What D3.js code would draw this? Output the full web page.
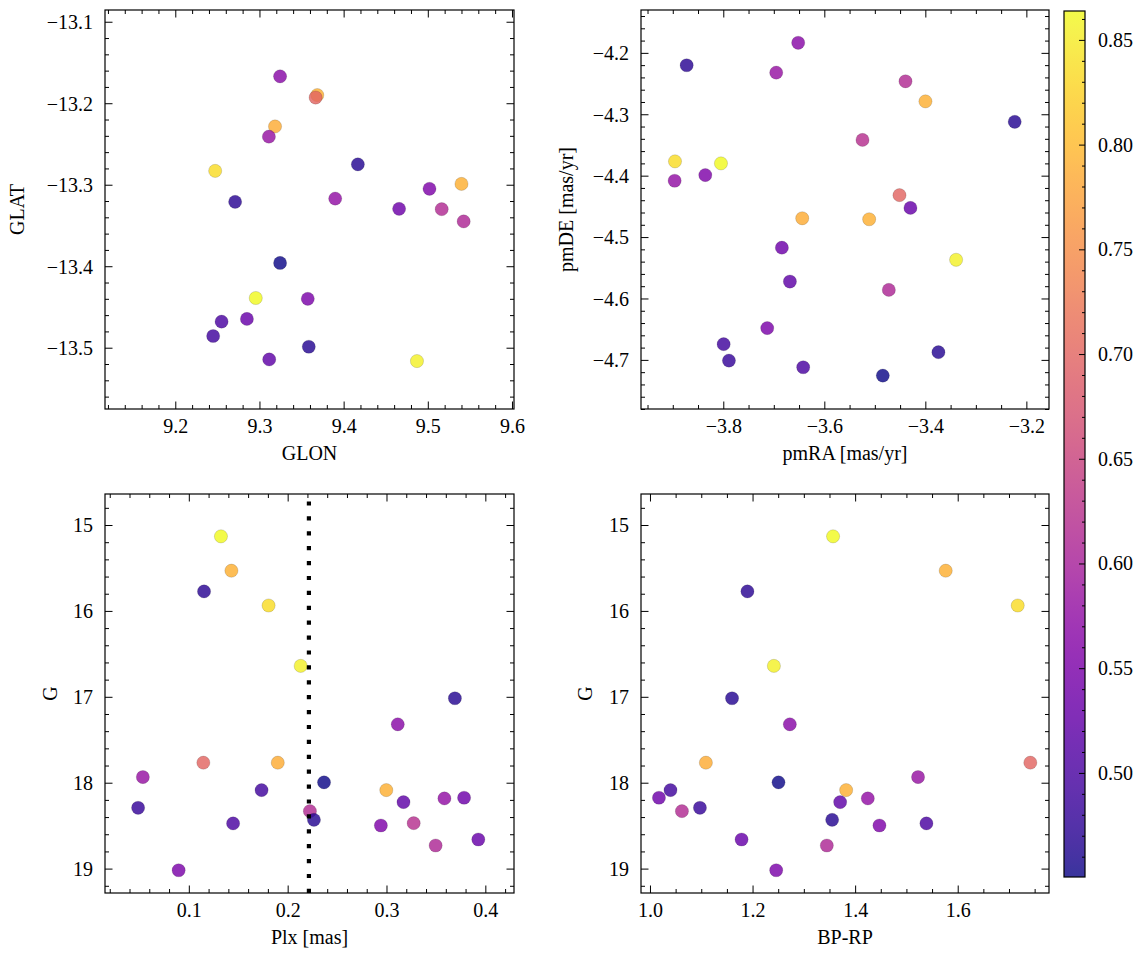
<!DOCTYPE html>
<html><head><meta charset="utf-8">
<script src="https://cdn.jsdelivr.net/npm/d3@7"></script>
</head><body style="margin:0;background:#fff">
<svg id="c" width="1144" height="960" xmlns="http://www.w3.org/2000/svg"></svg>
<script>
// ---- data: one entry per star ----
const glon = [9.2956, 9.3687, 9.2711, 9.2474, 9.4871, 9.4169, 9.3245, 9.3667, 9.3185, 9.3112, 9.3245, 9.2450, 9.5400, null,   9.3116, 9.3900, 9.4659, 9.5165, 9.3586, 9.2550, 9.5020, null,   9.5426, 9.2851, 9.3574];
const glat = [-13.439, -13.190, -13.321, -13.283, -13.5164, -13.275, -13.167, -13.193, -13.2285, -13.241, -13.396, -13.4856, -13.299, null, -13.5144, -13.317, -13.3296, -13.330, -13.4988, -13.468, -13.305, null, -13.345, -13.4647, -13.440];
const pmra = [-3.8046, -3.3998, -3.8725, -3.8956, -3.3391, -3.2231, -3.6517, -3.4512, -3.6437, -3.6952, -3.4842, -3.7993, -3.5112, -3.7888, -3.6681, -3.8963, -3.6840, -3.4393, -3.3741, -3.6418, -3.8356, -3.5244, -3.4723, -3.4295, -3.7130];
const pmde = [-4.380, -4.279, -4.2202, -4.3767, -4.537, -4.3123, -4.1836, -4.4317, -4.4694, -4.2322, -4.7256, -4.6744, -4.471, -4.7011, -4.5724, -4.4083, -4.5173, -4.2463, -4.6875, -4.712, -4.399, -4.3418, -4.586, -4.4525, -4.6482];
const plx  = [0.1325, 0.1431, 0.1154, 0.1807, 0.2132, 0.3692, 0.3114, 0.1147, 0.1900, 0.0535, 0.2368, 0.1736, 0.2998, 0.0487, 0.3172, 0.3586, 0.3785, 0.2225, 0.2266, 0.1448, 0.2943, 0.3275, 0.3497, 0.3929, 0.0897];
const gmag = [15.132, 15.532, 15.773, 15.937, 16.640, 17.017, 17.320, 17.767, 17.767, 17.934, 17.996, 18.086, 18.086, 18.292, 18.226, 18.183, 18.175, 18.331, 18.432, 18.474, 18.498, 18.471, 18.731, 18.661, 19.019];
const bprp = [1.357, 1.5766, 1.190, 1.717, 1.2416, 1.160, 1.2727, 1.7416, 1.109, 1.5227, 1.2506, 1.040, 1.3825, 1.0974, 1.3708, 1.4247, 1.0175, 1.0623, 1.3552, 1.539, 1.4474, null, 1.3448, 1.1786, 1.2461];
const prob = [0.8638, 0.790, 0.470, 0.835, 0.855, 0.465, 0.565, 0.700, 0.785, 0.580, 0.4503, 0.490, 0.790, 0.480, 0.520, 0.575, 0.535, 0.615, 0.465, 0.500, 0.555, 0.620, 0.610, 0.530, 0.550];
const plxLine = 0.2215;

// axis limits and tick values
const glonLim = [9.1165, 9.6024], glatLim = [-13.0856, -13.5752];
const pmraLim = [-3.9629, -3.1552], pmdeLim = [-4.1302, -4.7800];
const plxLim = [0.0152, 0.4290], gLim = [14.639, 19.284], bprpLim = [0.9825, 1.7780];
const glonTicks = [9.2, 9.3, 9.4, 9.5, 9.6];
const glatTicks = [-13.1, -13.2, -13.3, -13.4, -13.5];
const pmraTicks = [-3.8, -3.6, -3.4, -3.2];
const pmdeTicks = [-4.2, -4.3, -4.4, -4.5, -4.6, -4.7];
const plxTicks = [0.1, 0.2, 0.3, 0.4];
const gTicks = [15, 16, 17, 18, 19];
const bprpTicks = [1.0, 1.2, 1.4, 1.6];
const cbTicks = [0.50, 0.55, 0.60, 0.65, 0.70, 0.75, 0.80, 0.85];

// ---- drawing ----
const FONT = "'Liberation Serif', 'DejaVu Serif', serif";
const svg = d3.select("#c").style("font-family", FONT);
svg.append("rect").attr("width",1144).attr("height",960).attr("fill","#fff");
const FS = 20;
const cext = d3.extent(prob);
const color = d3.scaleSequential(d3.interpolatePlasma).domain(cext);
const f1 = d3.format(".1f"), f0 = d3.format("d"), f2 = d3.format(".2f");

function minorTicks(dom, step, majors){
  const lo = Math.min(dom[0],dom[1]), hi = Math.max(dom[0],dom[1]);
  const out = [];
  for(let i=Math.ceil(lo/step-1e-9); i<=Math.floor(hi/step+1e-9); i++){
    const v = +(i*step).toFixed(6);
    if(!majors.some(m=>Math.abs(m-v)<step*0.01)) out.push(v);
  }
  return out;
}

function styleAxis(g){
  g.select(".domain").remove();
  g.attr("font-family", FONT).attr("font-size", FS);
  g.selectAll("line").attr("stroke","#000").attr("stroke-width",1);
  g.selectAll("text").style("font-family", FONT).style("font-size", FS+"px").attr("fill","#000");
}
function label(sel){ return sel.style("font-family", FONT).style("font-size", FS+"px").attr("fill","#000"); }

const panels = [
  {xv:glon, yv:glat, xd:glonLim, yd:glatLim, xt:glonTicks, yt:glatTicks, xm:0.02, ym:0.02, fx:f1, fy:f1, xl:"GLON", yl:"GLAT", box:[105,10,514,409], ylOff:81.5},
  {xv:pmra, yv:pmde, xd:pmraLim, yd:pmdeLim, xt:pmraTicks, yt:pmdeTicks, xm:0.05, ym:0.02, fx:f1, fy:f1, xl:"pmRA [mas/yr]", yl:"pmDE [mas/yr]", box:[641,10,1049,409], ylOff:68},
  {xv:plx, yv:gmag, xd:plxLim, yd:gLim, xt:plxTicks, yt:gTicks, xm:0.02, ym:0.2, fx:f1, fy:f0, xl:"Plx [mas]", yl:"G", box:[105,494,514,893], ylOff:48, vline:plxLine},
  {xv:bprp, yv:gmag, xd:bprpLim, yd:gLim, xt:bprpTicks, yt:gTicks, xm:0.05, ym:0.2, fx:f1, fy:f0, xl:"BP-RP", yl:"G", box:[641,494,1049,893], ylOff:49}
];

panels.forEach((p,pi)=>{
  const [x0,y0,x1,y1] = p.box;
  const xs = d3.scaleLinear().domain(p.xd).range([x0,x1]);
  const ys = d3.scaleLinear().domain(p.yd).range([y0,y1]);
  const g = svg.append("g");
  const clipId = "clip"+pi;
  g.append("clipPath").attr("id",clipId).append("rect").attr("x",x0).attr("y",y0).attr("width",x1-x0).attr("height",y1-y0);
  const idx = d3.range(prob.length).filter(i=>p.xv[i]!=null && p.yv[i]!=null);
  g.append("g").attr("clip-path",`url(#${clipId})`).selectAll("circle").data(idx).join("circle")
    .attr("cx",i=>xs(p.xv[i])).attr("cy",i=>ys(p.yv[i])).attr("r",6.6)
    .attr("fill",i=>color(prob[i])).attr("fill-opacity",0.82)
    .attr("stroke","#000").attr("stroke-opacity",0.35).attr("stroke-width",0.4);
  if(p.vline!=null){
    g.append("line").attr("clip-path",`url(#${clipId})`)
      .attr("x1",xs(p.vline)).attr("x2",xs(p.vline)).attr("y1",y1).attr("y2",y0)
      .attr("stroke","#000").attr("stroke-width",4.2).attr("stroke-dasharray","4.2,10.7");
  }
  const xmin = minorTicks(p.xd,p.xm,p.xt), ymin = minorTicks(p.yd,p.ym,p.yt);
  const MJ=7.5, MN=4;
  g.append("g").attr("transform",`translate(0,${y1})`).call(d3.axisBottom(xs).tickValues(p.xt).tickSize(-MJ).tickPadding(9.8).tickFormat(p.fx)).call(styleAxis);
  g.append("g").attr("transform",`translate(0,${y1})`).call(d3.axisBottom(xs).tickValues(xmin).tickSize(-MN).tickFormat("")).call(styleAxis);
  g.append("g").attr("transform",`translate(0,${y0})`).call(d3.axisTop(xs).tickValues(p.xt).tickSize(-MJ).tickFormat("")).call(styleAxis);
  g.append("g").attr("transform",`translate(0,${y0})`).call(d3.axisTop(xs).tickValues(xmin).tickSize(-MN).tickFormat("")).call(styleAxis);
  const la = g.append("g").attr("transform",`translate(${x0},0)`).call(d3.axisLeft(ys).tickValues(p.yt).tickSize(-MJ).tickPadding(12).tickFormat(p.fy)).call(styleAxis);
  g.append("g").attr("transform",`translate(${x0},0)`).call(d3.axisLeft(ys).tickValues(ymin).tickSize(-MN).tickFormat("")).call(styleAxis);
  g.append("g").attr("transform",`translate(${x1},0)`).call(d3.axisRight(ys).tickValues(p.yt).tickSize(-MJ).tickFormat("")).call(styleAxis);
  g.append("g").attr("transform",`translate(${x1},0)`).call(d3.axisRight(ys).tickValues(ymin).tickSize(-MN).tickFormat("")).call(styleAxis);
  la.selectAll("text").attr("dy","0.34em");
  g.append("rect").attr("x",x0).attr("y",y0).attr("width",x1-x0).attr("height",y1-y0)
    .attr("fill","none").attr("stroke","#000").attr("stroke-width",1.2);
  g.append("text").attr("x",(x0+x1)/2).attr("y",y1+51).attr("text-anchor","middle").call(label).text(p.xl);
  g.append("text").attr("transform",`translate(${x0-p.ylOff},${(y0+y1)/2}) rotate(-90)`)
    .attr("text-anchor","middle").call(label).text(p.yl);
});

// ---- colorbar ----
const cb = {x0:1064, x1:1085, y0:11, y1:877};
const cs = d3.scaleLinear().domain(cext).range([cb.y1, cb.y0]);
const defs = svg.append("defs");
const grad = defs.append("linearGradient").attr("id","cbg").attr("x1",0).attr("y1",1).attr("x2",0).attr("y2",0);
d3.range(0,1.0001,0.02).forEach(t=>{
  grad.append("stop").attr("offset",t).attr("stop-color",d3.interpolatePlasma(t));
});
svg.append("rect").attr("x",cb.x0).attr("y",cb.y0).attr("width",cb.x1-cb.x0).attr("height",cb.y1-cb.y0)
  .attr("fill","url(#cbg)").attr("fill-opacity",0.82);
const cbMinor = minorTicks(cext,0.01,cbTicks);
svg.append("g").attr("transform",`translate(${cb.x1},0)`).call(d3.axisRight(cs).tickValues(cbTicks).tickSize(-6).tickPadding(13).tickFormat(f2)).call(styleAxis);
svg.append("g").attr("transform",`translate(${cb.x1},0)`).call(d3.axisRight(cs).tickValues(cbMinor).tickSize(-3).tickFormat("")).call(styleAxis);
svg.append("rect").attr("x",cb.x0).attr("y",cb.y0).attr("width",cb.x1-cb.x0).attr("height",cb.y1-cb.y0)
  .attr("fill","none").attr("stroke","#000").attr("stroke-width",1.2);
</script>
</body></html>
